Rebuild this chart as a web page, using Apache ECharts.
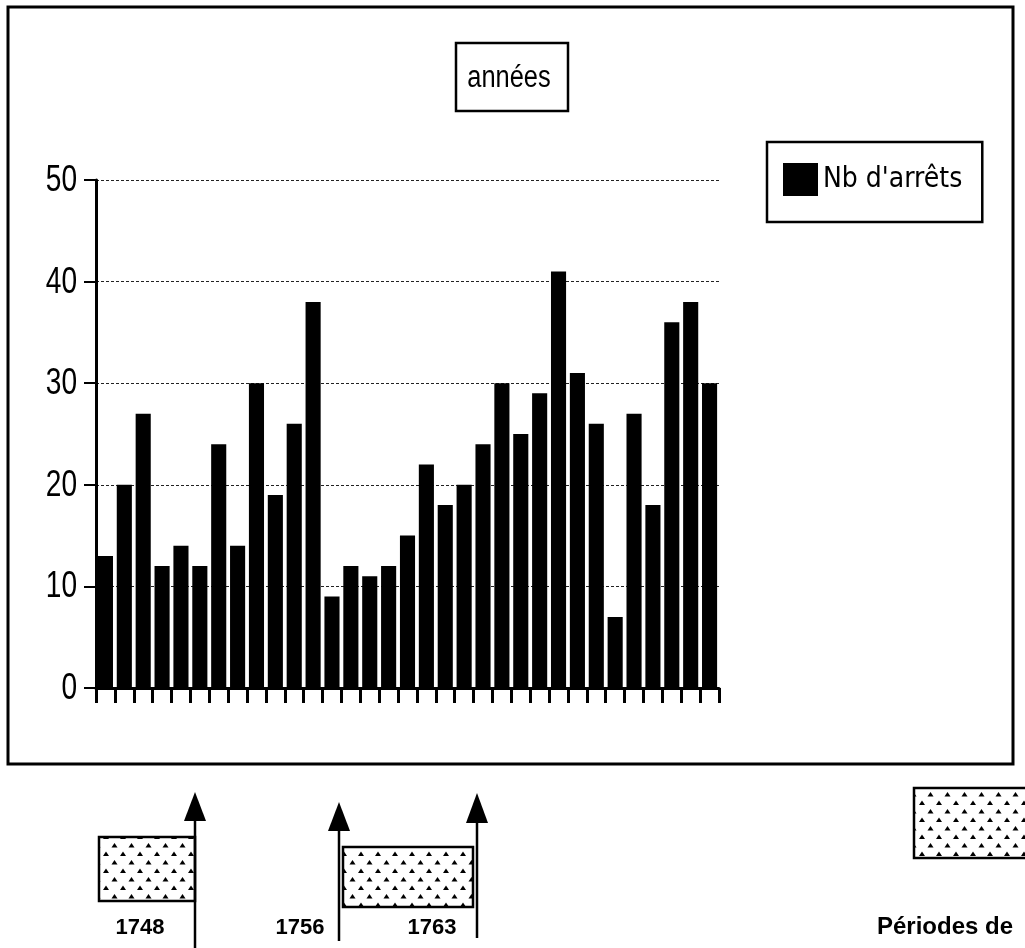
<!DOCTYPE html>
<html><head><meta charset="utf-8">
<script src="https://cdn.jsdelivr.net/npm/echarts@6/dist/echarts.min.js"></script>
<style>html,body{margin:0;padding:0;background:#fff}#c{width:1025px;height:948px}</style>
</head><body><div id="c"></div>
<script>
// ---- data ----
const years = [1743,1744,1745,1746,1747,1748,1749,1750,1751,1752,1753,1754,1755,1756,1757,1758,1759,1760,1761,1762,1763,1764,1765,1766,1767,1768,1769,1770,1771,1772,1773,1774,1775];
const arrets = [13,20,27,12,14,12,24,14,30,19,26,38,9,12,11,12,15,22,18,20,24,30,25,29,41,31,26,7,27,18,36,38,30];
const yTicks = [0,10,20,30,40,50];
const seriesName = "Nb d'arrêts";
const axisTitle = "années";
const periodLabels = ['1748','1756','1763'];
const periodNote = 'Périodes de';

// ---- pattern for the period boxes ----
function makePattern(){
  const c = document.createElement('canvas'); c.width = 17; c.height = 17;
  const g = c.getContext('2d');
  g.fillStyle = '#fff'; g.fillRect(0,0,17,17);
  g.fillStyle = '#000';
  function tri(x,y){ g.beginPath(); g.moveTo(x,y-2.4); g.lineTo(x+3,y+2); g.lineTo(x-3,y+2); g.closePath(); g.fill(); }
  tri(4,4); tri(12.5,12.5);
  return c;
}
const pat = {image: makePattern(), repeat: 'repeat'};
const sansFont = "'Liberation Sans', Arial, sans-serif";

const chart = echarts.init(document.getElementById('c'), null, {renderer:'canvas'});

function arrow(x, tipY, baseY, endY){
  return [
    {type:'line', shape:{x1:x,y1:baseY,x2:x,y2:endY}, style:{stroke:'#000', lineWidth:2.5}},
    {type:'polygon', shape:{points:[[x,tipY],[x+11,baseY],[x-11,baseY]]}, style:{fill:'#000'}}
  ];
}
function label(text, x, y, size, align){
  return {type:'text', x:x, y:y, style:{text:text, fill:'#000', font:'bold '+size+'px '+sansFont, align:align||'center', verticalAlign:'middle'}};
}

chart.setOption({
  animation:false,
  backgroundColor:'#fff',
  legend:{
    data:[{name:seriesName, icon:'rect'}],
    left:767, top:142,
    itemWidth:35, itemHeight:33,
    padding:[21,20,26,16],
    borderColor:'#000', borderWidth:2.5,
    textStyle:{fontFamily:"'DejaVu Sans Condensed','DejaVu Sans',sans-serif", fontSize:28, color:'#000'}
  },
  grid:{left:96, right:306, top:180, bottom:260},
  xAxis:{
    type:'category', data:years,
    axisLabel:{show:false, interval:0},
    axisLine:{show:true, lineStyle:{color:'#000', width:3}},
    axisTick:{show:true, interval:0, inside:false, length:15, lineStyle:{color:'#000', width:3}}
  },
  yAxis:{
    type:'value', min:yTicks[0], max:yTicks[yTicks.length-1], interval:10,
    axisLine:{show:true, lineStyle:{color:'#000', width:3}},
    axisTick:{show:true, length:12, lineStyle:{color:'#000', width:2}},
    axisLabel:{show:false},
    splitLine:{lineStyle:{color:'#222', width:1, type:[3,2]}}
  },
  series:[{
    name:seriesName, type:'bar', data:arrets,
    barCategoryGap:'20%',
    itemStyle:{color:'#000'}
  }]
});

// y tick labels, placed through the value axis scale (narrow, tall glyphs as in the original)
const yLabelGraphics = yTicks.map(v => ({
  type:'text', x:77, y:chart.convertToPixel({yAxisIndex:0}, v) + 1, scaleX:0.78,
  style:{text:String(v), fill:'#000', font:'36px '+sansFont, align:'right', verticalAlign:'middle'}
}));

const graphics = [
  {type:'rect', shape:{x:8,y:7,width:1005,height:757}, style:{fill:'none', stroke:'#000', lineWidth:3}, silent:true},
  {type:'rect', shape:{x:456,y:43,width:112,height:68}, style:{fill:'#fff', stroke:'#000', lineWidth:2.5}},
  {type:'text', x:509, y:78, scaleX:0.82, style:{text:axisTitle, fill:'#000', font:'31px '+sansFont, align:'center', verticalAlign:'middle'}},
  ...yLabelGraphics,
  {type:'rect', shape:{x:99,y:837,width:96,height:64}, style:{fill:pat, stroke:'#000', lineWidth:2.5}},
  {type:'rect', shape:{x:343,y:847,width:130,height:60}, style:{fill:pat, stroke:'#000', lineWidth:2.5}},
  {type:'rect', shape:{x:914,y:788,width:130,height:70}, style:{fill:pat, stroke:'#000', lineWidth:2.5}},
  ...arrow(195, 792, 821, 950),
  ...arrow(339, 802, 831, 941),
  ...arrow(477, 793, 823, 938),
  label(periodLabels[0], 140, 928, 22),
  label(periodLabels[1], 300, 928, 22),
  label(periodLabels[2], 432, 928, 22),
  label(periodNote, 877, 927, 24, 'left')
];
chart.setOption({graphic: graphics});
</script>
</body></html>
